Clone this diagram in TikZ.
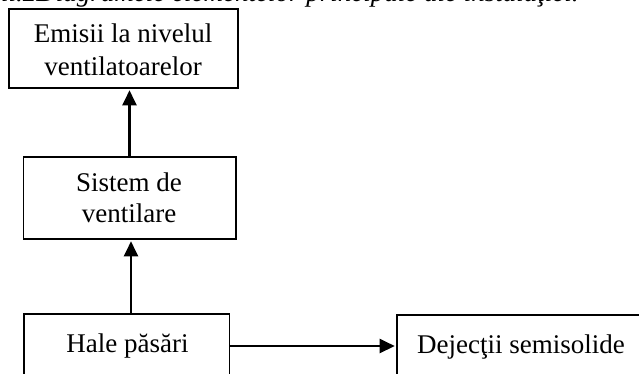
\documentclass[tikz,border=0pt]{standalone}
\usepackage{fontspec}
\setmainfont{Liberation Serif}
\usetikzlibrary{arrows.meta,calc}
\begin{document}
\begin{tikzpicture}[x=1pt,y=-1pt,
  box/.style={draw,line width=1.6pt,inner sep=0pt},
  lbl/.style={font=\fontsize{27}{31}\selectfont,inner sep=0pt,anchor=base},
  arr/.style={line width=2.4pt,-{Triangle[length=15pt,width=14pt]},shorten >=1.5pt}]
\useasboundingbox (0,0) rectangle (639,373);
\node[lbl,font=\fontsize{27}{31}\selectfont\itshape,anchor=base west] (title) at (1,1.5) {ii.2Diagramele elementelor principale ale instalaţiei.};
\node[box,minimum width=229pt,minimum height=79pt] (e) at (123.5,48.5) {};
\node[lbl] (e1) at (123,42.7) {Emisii la nivelul};
\node[lbl] (e2) at (123,75) {ventilatoarelor};
\node[box,minimum width=212.5pt,minimum height=82.3pt] (s) at (129.75,197.85) {};
\node[lbl] (s1) at (129,191.7) {Sistem de};
\node[lbl] (s2) at (129,222.7) {ventilare};
\node[box,minimum width=205.3pt,minimum height=81pt] (h) at (126.65,354.5) {};
\node[lbl] (ht) at (127.5,352) {Hale păsări};
\node[box,minimum width=266pt,minimum height=81pt] (d) at (530,355.5) {};
\node[lbl,anchor=base west] (dt) at (417,353) {Dejecţii semisolide};
\coordinate (row) at (0,346);
\draw[arr] (h.north -| 131,0) -- (s.south -| 131,0);
\draw[arr] (s.north -| 129.5,0) -- (e.south -| 129.5,0);
\draw[arr] (h.east |- row) -- (d.west |- row);
\end{tikzpicture}
\end{document}
